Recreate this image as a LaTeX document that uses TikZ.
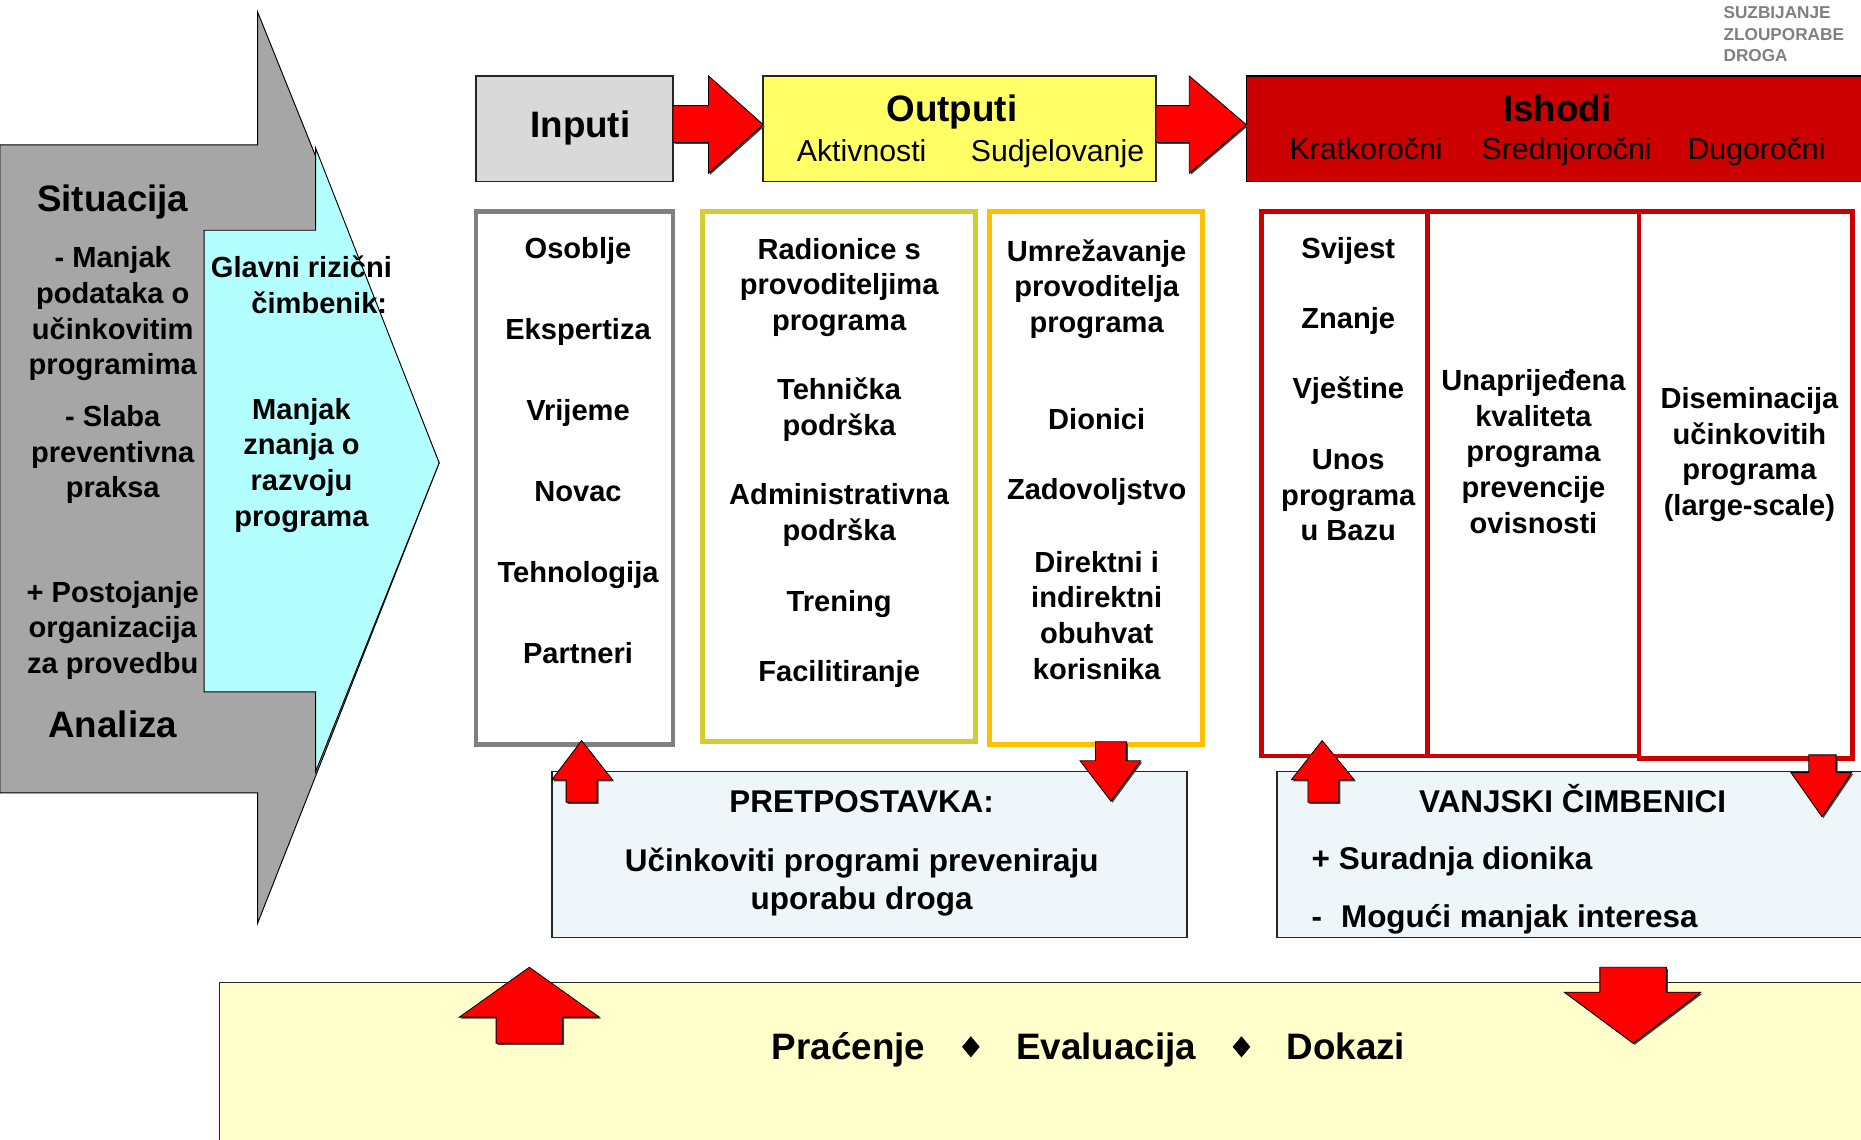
\documentclass[tikz,border=0pt]{standalone}
\usepackage{fontspec}
\setmainfont{Liberation Sans}
\usetikzlibrary{shapes.geometric,shadows}

\definecolor{situgray}{HTML}{A6A6A6}
\definecolor{riskcyan}{HTML}{B3FFFF}
\definecolor{inputgray}{HTML}{D9D9D9}
\definecolor{outyellow}{HTML}{FFFF66}
\definecolor{ishodred}{HTML}{CC0000}
\definecolor{colgray}{HTML}{808080}
\definecolor{cololive}{HTML}{D4CC33}
\definecolor{colorange}{HTML}{FFC000}
\definecolor{notefill}{HTML}{EEF6F9}
\definecolor{evalfill}{HTML}{FFFFCC}

\begin{document}
\begin{tikzpicture}[
		x=1pt, y=-1pt,
		bfont/.style={font=\fontsize{24.5}{30}\selectfont\bfseries, align=center, inner sep=0pt},
		txt/.style={bfont, yshift=-3pt},
		item/.style={bfont, text height=23pt, text depth=5.4pt},
		head/.style={font=\fontsize{31}{36}\selectfont\bfseries, inner sep=0pt, text height=29pt, text depth=6.8pt},
		sub/.style={font=\fontsize{25.5}{30}\selectfont, inner sep=0pt, text height=24pt, text depth=5.8pt},
		nfont/.style={font=\fontsize{26.5}{32}\selectfont\bfseries, align=center, inner sep=0pt},
		note/.style={nfont, text height=25pt, text depth=6pt},
		notes/.style={nfont, yshift=-3pt},
		box/.style={draw=black!85, line width=1.2pt, inner sep=0pt},
		column/.style={draw, line width=4pt, inner sep=0pt, fill=white},
		redblock/.style={fill=red, draw=black, line width=0.7pt,
			drop shadow={shadow xshift=1.3pt, shadow yshift=-1.3pt, fill=black!75, opacity=1}},
		sep/.style={diamond, fill=black, inner sep=0pt, minimum width=15pt, minimum height=18pt},
		]
		\clip (0,0) rectangle (1568,960);
		% Draw the situation arrow and the risk factor arrow
		\filldraw[fill=situgray, draw=black, line width=0.8pt] (0,122) -- (217,122) -- (217,10) -- (370,390)
			-- (217,778) -- (217,668) -- (0,668) -- cycle;
		\filldraw[fill=riskcyan, draw=black, line width=0.8pt] (172,194) -- (266,194) -- (266,125) -- (370,390)
			-- (266,650) -- (266,583) -- (172,583) -- cycle;
		\node[head] (situ) at (95,167) {Situacija};
		\node[txt] (sit1) at (95,261.5) {- Manjak\\podataka o\\učinkovitim\\programima};
		\node[txt] (sit2) at (95,380) {- Slaba\\preventivna\\praksa};
		\node[txt] (sit3) at (95,528) {+ Postojanje\\organizacija\\za provedbu};
		\node[head] (anal) at (95,610) {Analiza};
		\node[txt] (risk1) at (254,237) {Glavni rizični\\\hspace*{30pt}čimbenik:};
		\node[txt] (risk2) at (254,389) {Manjak\\znanja o\\razvoju\\programa};

		% Draw the header boxes
		\node[box, fill=inputgray, minimum width=166pt, minimum height=89pt] (inputs) at (484,108.5) {};
		\node[box, fill=outyellow, minimum width=331pt, minimum height=89pt] (outputs) at (808.5,108.5) {};
		\node[box, draw=black, fill=ishodred, minimum width=530pt, minimum height=89pt] (ishodi) at (1315,108.5) {};
		\node[head] (inputs-t) at (489,105) {Inputi};
		\node[head] (outputs-t) at (802,91) {Outputi};
		\node[sub] (aktiv) at (726,127) {Aktivnosti};
		\node[sub] (sudje) at (891,127) {Sudjelovanje};
		\node[head] (ishodi-t) at (1312,91) {Ishodi};
		\node[sub] (krat) at (1151,125) {Kratkoročni};
		\node[sub] (sred) at (1320,125) {Srednjoročni};
		\node[sub] (dugo) at (1480,125) {Dugoročni};
		\node[anchor=north west, align=left, inner sep=0pt, text=colgray,
			font=\fontsize{14.5}{18}\selectfont\bfseries] (logo) at (1452,5.5) {SUZBIJANJE\\ZLOUPORABE\\DROGA};
		\filldraw[redblock] (567,89) -- (597,89) -- (597,64) -- (643,105) -- (597,146) -- (597,120) -- (567,120) -- cycle;
		\filldraw[redblock] (974,89) -- (1002,89) -- (1002,64) -- (1050,105) -- (1002,146) -- (1002,120) -- (974,120) -- cycle;

		% Draw the columns
		\node[column, draw=colgray, minimum width=166pt, minimum height=449pt] (colin) at (484,402.5) {};
		\node[column, draw=cololive, minimum width=230pt, minimum height=447pt] (colakt) at (707,401.5) {};
		\node[column, draw=colorange, minimum width=179pt, minimum height=449pt] (colsud) at (923.5,402.5) {};
		\node[column, draw=ishodred, minimum width=140pt, minimum height=459pt] (colkrat) at (1133,407.5) {};
		\node[column, draw=ishodred, minimum width=178pt, minimum height=459pt] (colsred) at (1292,407.5) {};
		\node[column, draw=ishodred, minimum width=180pt, minimum height=461pt] (coldugo) at (1471,408.5) {};
		\foreach \txt [count=\i from 0] in {Osoblje,Ekspertiza,Vrijeme,Novac,Tehnologija,Partneri}
			\node[item] (inp\i) at (487,209+68.2*\i) {\txt};
		\foreach \y/\s/\txt [count=\i] in {239/txt/{Radionice s\\provoditeljima\\programa},342/txt/{Tehnička\\podrška},
			431/txt/{Administrativna\\podrška},506/item/Trening,565/item/Facilitiranje}
			\node[\s] (akt\i) at (707,\y) {\txt};
		\foreach \y/\s/\txt [count=\i] in {240.5/txt/{Umrežavanje\\provoditelja\\programa},353/item/Dionici,
			412/item/Zadovoljstvo,515.5/txt/{Direktni i\\indirektni\\obuhvat\\korisnika}}
			\node[\s] (sud\i) at (924,\y) {\txt};
		\foreach \y/\s/\txt [count=\i] in {209/item/Svijest,268/item/Znanje,327/item/Vještine,414.5/txt/{Unos\\programa\\u Bazu}}
			\node[\s] (krat\i) at (1136,\y) {\txt};
		\node[txt] (sred1) at (1292,377.5) {Unaprijeđena\\kvaliteta\\programa\\prevencije\\ovisnosti};
		\node[txt] (dugo1) at (1474,380) {Diseminacija\\učinkovitih\\programa\\(large-scale)};

		% Draw the assumption, the external factors and the evaluation
		\node[box, fill=notefill, minimum width=535pt, minimum height=140pt] (pret) at (732.5,720) {};
		\node[note] (pret-t) at (726,675) {PRETPOSTAVKA:};
		\node[notes] (pret-x) at (726,740) {Učinkoviti programi preveniraju\\uporabu droga};
		\node[box, fill=notefill, minimum width=514pt, minimum height=140pt] (vanj) at (1333,720) {};
		\node[note] (vanj-t) at (1325,675) {VANJSKI ČIMBENICI};
		\node[note, anchor=west] (vanj1) at (1105,723) {+ Suradnja dionika};
		\node[note, anchor=west] (vanj2) at (1105,772) {-\hspace{0.6em}Mogući manjak interesa};
		\node[box, fill=evalfill, minimum width=1405pt, minimum height=152pt] (eval) at (887.5,904) {};
		\node[head] (prac) at (715,882) {Praćenje};
		\node[sep] (sep1) at (818,882) {};
		\node[head] (evalu) at (932,882) {Evaluacija};
		\node[sep] (sep2) at (1046,882) {};
		\node[head] (dokaz) at (1134,882) {Dokazi};

		% Draw the small block arrows
		\filldraw[redblock] (490,624) -- (516,657) -- (503,657) -- (503,676) -- (477,676) -- (477,657) -- (465,657) -- cycle;
		\filldraw[redblock] (923,625) -- (949,625) -- (949,641) -- (961,641) -- (936,675) -- (910,641) -- (923,641) -- cycle;
		\filldraw[redblock] (1114,624) -- (1141,657) -- (1128,657) -- (1128,676) -- (1102,676) -- (1102,657) -- (1088,657) -- cycle;
		\filldraw[redblock] (1524,636) -- (1547,636) -- (1547,651) -- (1560,651) -- (1535,688) -- (1509,651) -- (1524,651) -- cycle;
		\filldraw[redblock] (446,815) -- (505,857) -- (474,857) -- (474,879) -- (418,879) -- (418,857) -- (387,857) -- cycle;
		\filldraw[redblock] (1348,815) -- (1404,815) -- (1404,836) -- (1433,836) -- (1376,879) -- (1318,836) -- (1348,836) -- cycle;
	\end{tikzpicture}
\end{document}
